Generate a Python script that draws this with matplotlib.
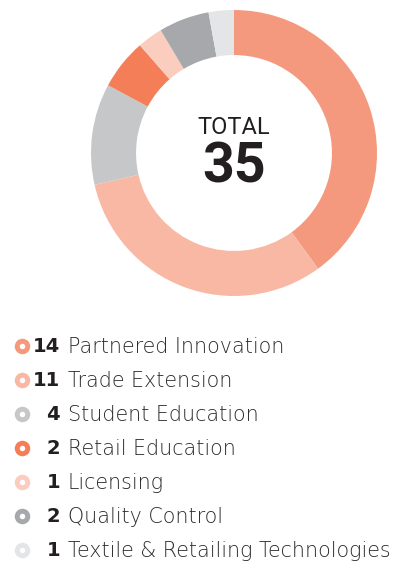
import matplotlib
matplotlib.use("Agg")
from matplotlib import pyplot as plt

# data
categories = ["Partnered Innovation", "Trade Extension", "Student Education",
              "Retail Education", "Licensing", "Quality Control",
              "Textile & Retailing Technologies"]
counts = [14, 11, 4, 2, 1, 2, 1]
colors = ["#F4997D", "#F8B8A4", "#C6C7C9", "#F37E57", "#FBCDBF", "#A7A8AC", "#E4E5E7"]
total_label = "TOTAL"

W, H = 406, 562
fig = plt.figure(figsize=(W / 100, H / 100), dpi=100)

# donut, centre approx (234, 153) px, radius 143 px
cx, cy, r = 234, 153, 143
ax = fig.add_axes([(cx - r) / W, (H - cy - r) / H, 2 * r / W, 2 * r / H])
ax.pie(counts, colors=colors, startangle=90, counterclock=False, radius=1,
       wedgeprops=dict(width=0.315, linewidth=0))
ax.set_xlim(-1, 1)
ax.set_ylim(-1, 1)
ax.set_aspect("equal")
ax.axis("off")

ax.text(0, 0.18, total_label, ha="center", va="center", fontsize=17,
        family="Roboto", color="#231F20")
ax.text(0, -0.1, str(sum(counts)), ha="center", va="center", fontsize=40,
        family="Roboto", fontweight="bold", color="#231F20")

# legend, drawn in pixel coords
lg = fig.add_axes([0, 0, 1, 1])
lg.set_xlim(0, W)
lg.set_ylim(H, 0)
lg.axis("off")

y0, dy = 346, 34
for i, (name, n, c) in enumerate(zip(categories, counts, colors)):
    y = y0 + dy * i
    lg.scatter([22.5], [y], s=(15.5 * 0.72) ** 2, color=c, linewidths=0)
    lg.scatter([22.5], [y], s=(5.5 * 0.72) ** 2, color="white", linewidths=0)
    lg.text(60, y + 1, str(n), ha="right", va="center", fontsize=14,
            fontweight="bold", color="#231F20")
    lg.text(68, y + 1, name, ha="left", va="center", fontsize=14.9,
            fontweight="light", color="#2B2B2B")

plt.savefig("out.png", dpi=100)
